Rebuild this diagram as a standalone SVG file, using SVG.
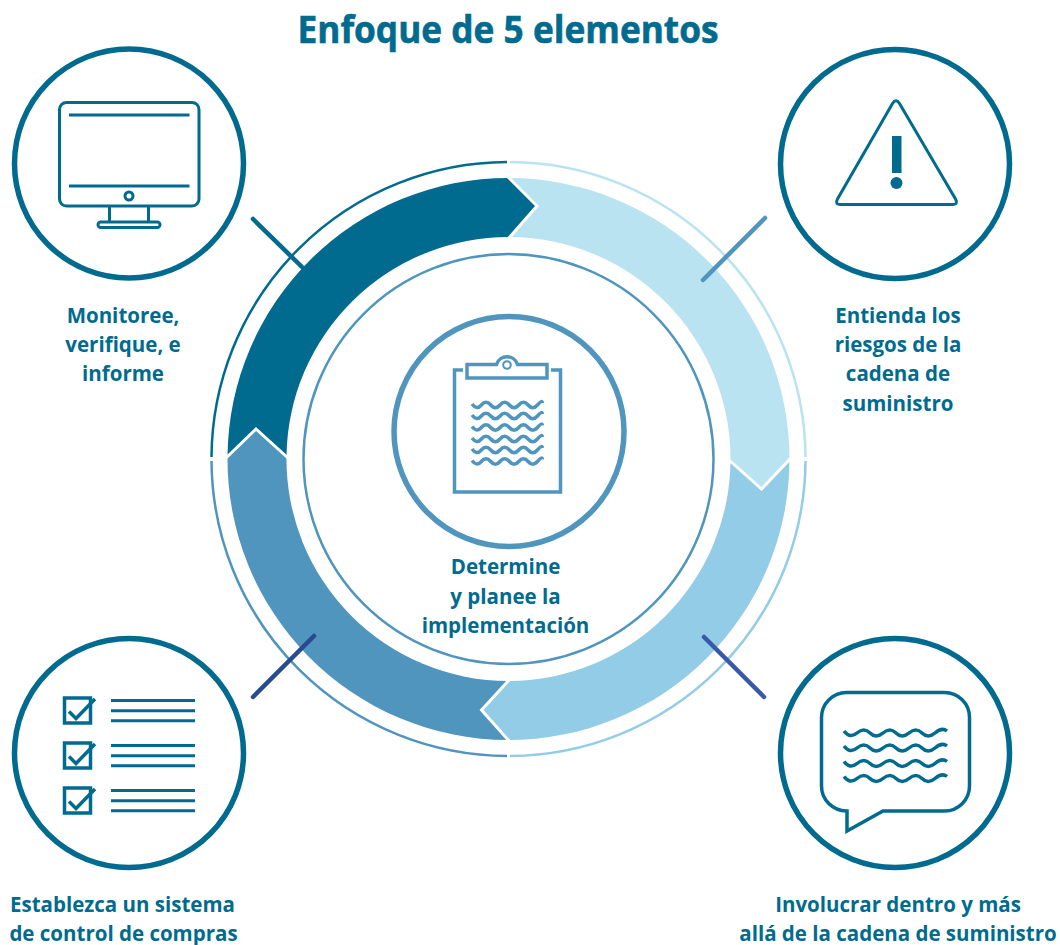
<svg xmlns="http://www.w3.org/2000/svg" xmlns:xlink="http://www.w3.org/1999/xlink" width="1060" height="945" viewBox="0 0 1060 945">
<style>
text{font-family:"Open Sans","Noto Sans","Liberation Sans",sans-serif;font-weight:700;fill:#006b8f;text-anchor:middle}
.lbl{font-size:20.5px}
.big{fill:#fff;stroke:#006b8f;stroke-width:5.5}
.ic{fill:none;stroke:#006b8f;stroke-width:3}
.ic3{fill:none;stroke:#006b8f;stroke-width:3.5}
.cb{fill:none;stroke:#4f95bd;stroke-width:3.5}
.ring{fill:none;stroke-width:2.5}
.sep{fill:none;stroke:#fff;stroke-width:3}
.con{fill:none;stroke-width:4.5;stroke-linecap:round}
</style>
<defs>
<path id="w1" d="M0,-1q4.68,6.500 9.35,1t9.35,0t9.35,0t9.35,0t9.35,0t9.35,0t9.35,0t5,-2"/>
<path id="w2" d="M0,-2q6,8 13,2t13,0t13,0t13,0t13,0t13,0t13,0t12,-2"/>
<g id="chk"><rect x="64.500" y="0" width="26" height="25" fill="none" stroke="#006b8f" stroke-width="3.500"/><path d="M69,13.500l7,7L95,1" fill="none" stroke="#006b8f" stroke-width="3.500"/></g>
<g id="ln"><path d="M111,3.500H195M111,13.700H195M111,23.800H195" fill="none" stroke="#006b8f" stroke-width="3"/></g>
</defs>

<text x="508" y="43" font-size="37" textLength="421" lengthAdjust="spacingAndGlyphs" stroke="#006b8f" stroke-width="0.6">Enfoque de 5 elementos</text>

<g id="wheel">
<path fill="#006b8f" d="M227.500,456A281,281 0 0 1 508.500,178L537,206L510,237A222,222 0 0 0 286.500,456L256,429Z"/>
<path fill="#b9e3f0" d="M508.500,178A281,281 0 0 1 789.500,459L761.500,489L730.500,459A222,222 0 0 0 510,237L537,206Z"/>
<path fill="#93cce6" d="M789.500,459A281,281 0 0 1 508.500,740L481.500,710L508.500,681A222,222 0 0 0 730.500,459L761.500,489Z"/>
<path fill="#4f95bd" d="M508.500,740A281,281 0 0 1 227.500,456L256,429L286.500,456A222,222 0 0 0 508.500,681L481.500,710Z"/>
<path class="sep" d="M507,176L537,206L509,238M729,460L761.500,489L791,458M510,679L481.500,710L510,742M226,458L256,429L288,458"/>
<path class="ring" stroke="#006b8f" d="M211.500,457A297,297 0 0 1 507,162"/>
<path class="ring" stroke="#b9e3f0" d="M510,162A297,297 0 0 1 805.500,457"/>
<path class="ring" stroke="#93cce6" d="M805.500,461A297,297 0 0 1 510,756"/>
<path class="ring" stroke="#4f95bd" d="M507,756A297,297 0 0 1 211.500,461"/>
<circle cx="508.500" cy="459" r="205" fill="none" stroke="#4f95bd" stroke-width="2.500"/>
</g>

<g id="connectors">
<path class="con" stroke="#006b8f" d="M253,219L302,267" stroke-linecap="butt"/>
<path class="con" stroke="#4f95bd" d="M765,218L703,280"/>
<path class="con" stroke="#2a4a8f" d="M253,697L314,636"/>
<path class="con" stroke="#3a58a8" d="M704,637L764,697"/>
</g>

<g id="node-center">
<circle cx="509" cy="431.500" r="115" fill="#fff" stroke="#4f95bd" stroke-width="5.500"/>
<path class="cb" d="M463,370H454.500V492H560.500V370H551"/>
<path class="cb" d="M467,364.500H496.500A11,11 0 0 1 517.500,364.500H547V378H467Z" fill="#fff"/>
<circle cx="507" cy="365" r="3.800" fill="none" stroke="#4f95bd" stroke-width="2"/>
<g fill="none" stroke="#4f95bd" stroke-width="3.500">
<use href="#w1" x="472" y="405"/><use href="#w1" x="472" y="416"/><use href="#w1" x="472" y="427.500"/><use href="#w1" x="472" y="439"/><use href="#w1" x="472" y="450"/><use href="#w1" x="472" y="461.500"/>
</g>
<text class="lbl" x="505.500" y="574">Determine</text>
<text class="lbl" x="505.500" y="604">y planee la</text>
<text class="lbl" x="505.500" y="633">implementación</text>
</g>

<g id="node-monitor">
<circle class="big" cx="129" cy="163.500" r="114.500"/>
<rect class="ic" x="59.500" y="102.500" width="139.500" height="103.500" rx="7"/>
<path class="ic" d="M69,115H189.500M69,186H189.500M109.500,206V222M148.500,206V222"/>
<circle class="ic" cx="129" cy="196" r="4"/>
<rect class="ic" x="98" y="222" width="62" height="5.500" rx="2.700"/>
<text class="lbl" x="123" y="323">Monitoree,</text>
<text class="lbl" x="123" y="352">verifique, e</text>
<text class="lbl" x="123" y="381">informe</text>
</g>

<g id="node-risk">
<circle class="big" cx="895" cy="164" r="114.500"/>
<path class="ic" d="M892.500,103.500Q896,98 899.500,103.500L955.500,199Q958.500,204.500 952.500,204.500H840.500Q834.500,204.500 837.500,199Z"/>
<rect x="892" y="136" width="9.500" height="37" fill="#006b8f"/>
<circle cx="896.500" cy="183" r="6" fill="#006b8f"/>
<text class="lbl" x="898" y="323">Entienda los</text>
<text class="lbl" x="898" y="352">riesgos de la</text>
<text class="lbl" x="898" y="381">cadena de</text>
<text class="lbl" x="898" y="411">suministro</text>
</g>

<g id="node-engage">
<circle class="big" cx="895" cy="753" r="114.500"/>
<path class="ic3" d="M847,692.500H944.500A25,25 0 0 1 969.500,717.500V786A25,25 0 0 1 944.500,811H883L847,831V811A25,25 0 0 1 821.500,786V717.500A25,25 0 0 1 847,692.500Z"/>
<g fill="none" stroke="#006b8f" stroke-width="3.500">
<use href="#w2" x="844" y="733"/><use href="#w2" x="844" y="748"/><use href="#w2" x="844" y="763.500"/><use href="#w2" x="844" y="778.500"/>
</g>
<text class="lbl" x="898" y="912">Involucrar dentro y más</text>
<text class="lbl" x="898" y="941">allá de la cadena de suministro</text>
</g>

<g id="node-control">
<circle class="big" cx="129" cy="753" r="114.500"/>
<use href="#chk" y="698"/><use href="#chk" y="743"/><use href="#chk" y="788"/>
<use href="#ln" y="697"/><use href="#ln" y="742"/><use href="#ln" y="787"/>
<text class="lbl" x="122.500" y="912">Establezca un sistema</text>
<text class="lbl" x="123.500" y="941">de control de compras</text>
</g>
</svg>
